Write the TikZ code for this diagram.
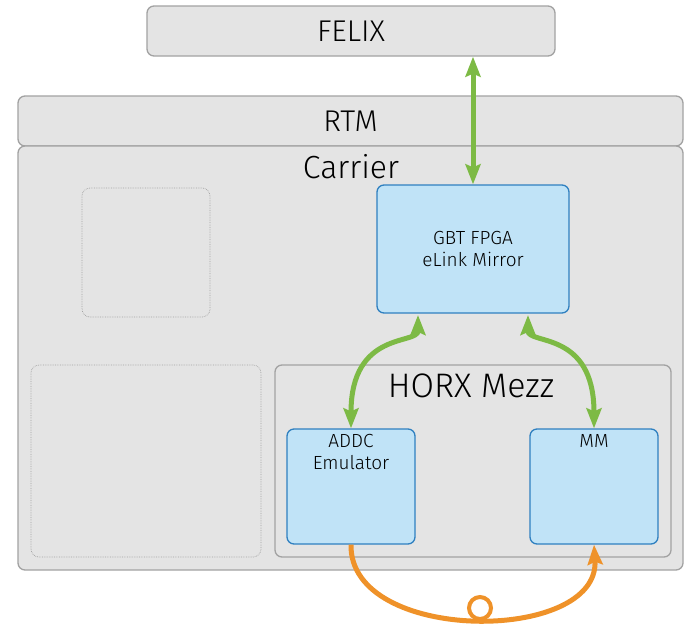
\documentclass[tikz,border=0pt]{standalone}
\usepackage{fontspec}
\setmainfont{Fira Sans Light}
\usepackage{tikz}
\usetikzlibrary{arrows.meta}
\definecolor{boardgray}{HTML}{E4E4E4}
\definecolor{edgegray}{HTML}{A2A2A2}
\definecolor{chipblue}{HTML}{C0E3F7}
\definecolor{chipedge}{HTML}{2F80C0}
\definecolor{linkgreen}{HTML}{7DBA45}
\definecolor{looporange}{HTML}{EF9229}

\begin{document}
\begin{tikzpicture}[x=1pt,y=-1pt,
  board/.style={draw=edgegray,fill=boardgray,rounded corners=7pt,line width=1.3pt,inner sep=0pt},
  chip/.style={draw=chipedge,fill=chipblue,rounded corners=7pt,line width=1.3pt,inner sep=0pt},
  spare/.style={draw=edgegray,densely dotted,rounded corners=8pt,line width=0.7pt,inner sep=0pt},
  big/.style={font=\fontsize{30}{32}\selectfont},
  small/.style={font=\fontsize{19}{22}\selectfont,align=center},
  link/.style={linkgreen,line width=5pt,{Stealth[length=20pt,width=15pt,inset=3pt]}-{Stealth[length=20pt,width=15pt,inset=3pt]}},
  loopline/.style={looporange,line width=5pt,-{Stealth[length=20pt,width=15pt,inset=3pt]}},
]
 \useasboundingbox (0,0) rectangle (687,624);

 \draw (351,31) node[board,minimum width=408pt,minimum height=50pt,big] (felix) {FELIX};
 \draw (350.5,121) node[board,minimum width=665pt,minimum height=50pt,big] (rtm) {RTM};
 \draw (350.5,358) node[board,minimum width=665pt,minimum height=424pt] (carrier) {};
   \draw (351,167) node[big,font=\fontsize{32}{34}\selectfont] (carrier label) {Carrier};
   \draw (146,252.5) node[spare,minimum width=128pt,minimum height=129pt] (spare a) {};
   \draw (146,461) node[spare,minimum width=230pt,minimum height=192pt] (spare b) {};
   \draw (473,249) node[chip,minimum width=192pt,minimum height=128pt,small] (gbt) {GBT FPGA\\eLink Mirror};
   \draw (473,461) node[board,minimum width=396pt,minimum height=192pt] (horx) {};
     \draw (471,386) node[big,font=\fontsize{34}{36}\selectfont] (horx label) {HORX Mezz};
     \draw (351,486.5) node[chip,minimum width=128pt,minimum height=115pt] (addc) {};
       \draw (351,431) node[small,anchor=north] (addc label) {ADDC\\Emulator};
     \draw (594,486.5) node[chip,minimum width=128pt,minimum height=115pt] (mm) {};
       \draw (594,431) node[small,anchor=north] (mm label) {MM};

 \coordinate (gbt left) at (418,315);
 \coordinate (gbt right) at (528,315);

 \path[link] (gbt.north |- felix.south) edge (gbt.north);
 \draw[link] (gbt left) .. controls (418,345) and (351,330) .. (addc.north);
 \draw[link] (gbt right) .. controls (528,345) and (594,330) .. (mm.north);
 \draw[loopline] (addc.south) .. controls (349,644) and (600,644) .. (mm.south);
 \draw (480,608) node[circle,draw=looporange,line width=4pt,fill=white,minimum size=22pt,inner sep=0pt] (tap) {};

\end{tikzpicture}
\end{document}
